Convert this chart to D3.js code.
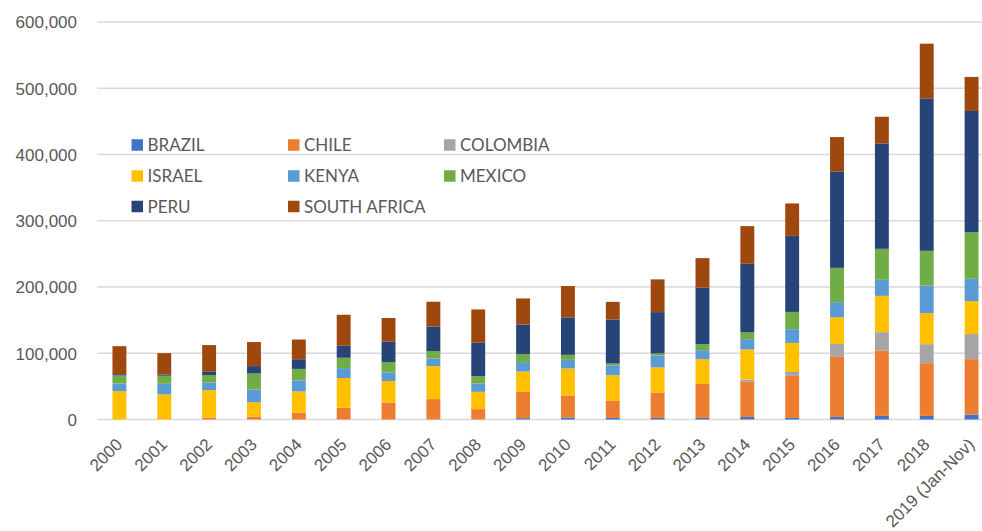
<!DOCTYPE html>
<html>
<head>
<meta charset="utf-8">
<script src="https://cdn.jsdelivr.net/npm/d3@7/dist/d3.min.js"></script>
<style>
  html, body { margin: 0; padding: 0; background: #fff; }
  svg { display: block; font-family: Lato, "Open Sans", sans-serif; }
</style>
</head>
<body>
<svg id="chart" width="982" height="531"></svg>
<script>
// Years on the category axis
const years = ["2000","2001","2002","2003","2004","2005","2006","2007","2008","2009",
               "2010","2011","2012","2013","2014","2015","2016","2017","2018","2019 (Jan-Nov)"];

// Series, stacked bottom to top in this order
const countries = ["BRAZIL","CHILE","COLOMBIA","ISRAEL","KENYA","MEXICO","PERU","SOUTH AFRICA"];
const colors = ["#4472C4","#ED7D31","#A5A5A5","#FFC000","#5B9BD5","#70AD47","#264478","#9E480E"];

const brazil      = [0, 0, 0, 0, 0, 0, 0, 0, 0, 2000, 3000, 2400, 2400, 2400, 3900, 2400, 3900, 5400, 5400, 7600];
const chile       = [0, 0, 3000, 4000, 10600, 17700, 25700, 30800, 15700, 39700, 33200, 25700, 38400, 51300, 52900, 63400, 90600, 98800, 79600, 83500];
const colombia    = [0, 0, 0, 0, 0, 0, 0, 0, 0, 0, 0, 0, 0, 0, 3600, 6000, 19600, 27600, 28700, 37800];
const israel      = [42700, 37800, 41300, 22200, 31700, 44800, 32300, 49800, 26100, 30700, 40800, 38800, 37800, 37300, 45300, 43800, 40300, 54800, 46800, 49800];
const kenya       = [11600, 16100, 11600, 19100, 16600, 15100, 13000, 11500, 12500, 14200, 13000, 14600, 18100, 13600, 15600, 20700, 22700, 24200, 41800, 33700];
const mexico      = [12100, 12100, 11100, 24200, 17500, 15600, 15700, 11200, 11200, 12100, 7600, 3000, 3000, 9100, 10100, 26100, 51800, 46800, 52300, 70100];
const peru        = [2000, 2000, 5000, 11100, 14600, 18100, 30700, 37200, 50300, 44700, 56500, 66500, 62400, 85600, 103600, 114800, 145600, 159200, 230200, 183200];
const southAfrica = [42300, 32200, 40300, 36300, 29700, 46800, 35800, 37300, 50300, 39300, 47300, 26600, 49400, 44300, 56900, 48900, 51800, 40200, 82500, 51400];

const yTicks = [0, 100000, 200000, 300000, 400000, 500000, 600000];

const seriesValues = [brazil, chile, colombia, israel, kenya, mexico, peru, southAfrica];
const rows = years.map((y, i) => {
  const r = { year: y };
  countries.forEach((c, k) => { r[c] = seriesValues[k][i]; });
  return r;
});

const svg = d3.select("#chart");

const x = d3.scaleBand()
  .domain(years)
  .range([97, 994])
  .paddingInner(0.69)
  .paddingOuter(0.345);

const y = d3.scaleLinear()
  .domain([0, 600000])
  .range([419.5, 22]);

const color = d3.scaleOrdinal().domain(countries).range(colors);

// Horizontal gridlines
svg.append("g")
  .selectAll("line")
  .data(yTicks)
  .join("line")
  .attr("x1", 97)
  .attr("x2", 982)
  .attr("y1", d => y(d))
  .attr("y2", d => y(d))
  .attr("stroke", "#d9d9d9")
  .attr("stroke-width", 1.5);

// Y axis labels
const yAxis = d3.axisLeft(y)
  .tickValues(yTicks)
  .tickFormat(d3.format(","))
  .tickSize(0)
  .tickPadding(0);
const yg = svg.append("g").attr("transform", "translate(77,0)").call(yAxis);
yg.select(".domain").remove();
yg.selectAll("text")
  .attr("fill", "#595959")
  .style("font-size", "17px")
  .attr("dy", "0.35em");

// Stacked bars
const stack = d3.stack().keys(countries);
const layers = stack(rows);

svg.append("g")
  .selectAll("g")
  .data(layers)
  .join("g")
  .attr("fill", d => color(d.key))
  .selectAll("rect")
  .data(d => d)
  .join("rect")
  .attr("x", d => x(d.data.year))
  .attr("width", x.bandwidth())
  .attr("y", d => y(d[1]))
  .attr("height", d => Math.max(0, y(d[0]) - y(d[1])));

// X axis labels, rotated so each ends just under its bar
const xAxis = d3.axisBottom(x).tickSize(0).tickPadding(0);
const xg = svg.append("g").attr("transform", "translate(0,419.5)").call(xAxis);
xg.select(".domain").remove();
xg.selectAll("text")
  .attr("fill", "#595959")
  .style("font-size", "17px")
  .attr("text-anchor", "end")
  .attr("x", 0)
  .attr("y", 0)
  .attr("dy", 0)
  .attr("transform", "translate(4,26) rotate(-45)");

// Legend, three columns
const legendCols = [131.5, 288, 444];
const legendRows = [145, 176, 206.5];
const legend = svg.append("g")
  .selectAll("g")
  .data(countries)
  .join("g")
  .attr("transform", (d, i) => `translate(${legendCols[i % 3]},${legendRows[Math.floor(i / 3)]})`);

legend.append("rect")
  .attr("x", 0)
  .attr("y", -5.75)
  .attr("width", 11.5)
  .attr("height", 11.5)
  .attr("fill", d => color(d));

legend.append("text")
  .attr("x", 16)
  .attr("y", 0)
  .attr("dy", "0.36em")
  .attr("fill", "#595959")
  .style("font-size", "17px")
  .text(d => d);
</script>
</body>
</html>
